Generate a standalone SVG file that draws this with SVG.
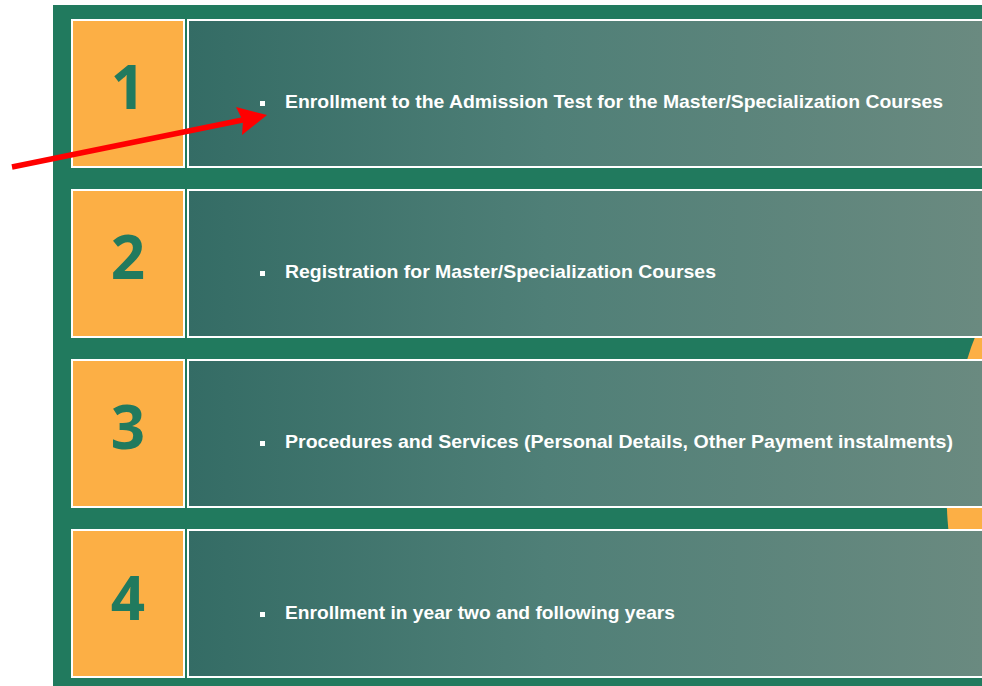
<svg xmlns="http://www.w3.org/2000/svg" width="982" height="686" viewBox="0 0 982 686">
  <defs>
    <linearGradient id="tealGrad" gradientUnits="userSpaceOnUse" x1="188" y1="0" x2="982" y2="0">
      <stop offset="0" stop-color="#346c65"/>
      <stop offset="0.45" stop-color="#4f7f77"/>
      <stop offset="1" stop-color="#6a8a80"/>
    </linearGradient>
    <style>
      .num { fill: #FCAF45; stroke: #ffffff; stroke-width: 2; }
      .panel { fill: url(#tealGrad); stroke: #ffffff; stroke-width: 2; }
      .digit { font-family: "Open Sans", "DejaVu Sans", sans-serif; font-weight: 700; font-size: 60px; fill: #217A5E; text-anchor: middle; }
      .label { font-family: "Liberation Sans", Arial, sans-serif; font-weight: bold; font-size: 18.5px; fill: #ffffff; }
      .bullet { fill: #ffffff; }
      .arrow-line { stroke: #ff0000; stroke-width: 5.5; fill: none; }
      .arrow-head { fill: #ff0000; }
    </style>
  </defs>

  <rect x="0" y="0" width="982" height="686" fill="#ffffff"/>
  <rect x="53" y="5" width="929" height="681" fill="#217A5E"/>
  <circle cx="1371.5" cy="490" r="425" fill="#FCAF45"/>

  <g id="step1">
    <rect class="num" x="72" y="20" width="112" height="147"/>
    <rect class="panel" x="188" y="20" width="800" height="147"/>
    <text class="digit" x="128" y="109">1</text>
    <rect class="bullet" x="260" y="101" width="5" height="5"/>
    <text class="label" x="285" y="108" textLength="658" lengthAdjust="spacingAndGlyphs">Enrollment to the Admission Test for the Master/Specialization Courses</text>
  </g>

  <g id="step2">
    <rect class="num" x="72" y="190" width="112" height="147"/>
    <rect class="panel" x="188" y="190" width="800" height="147"/>
    <text class="digit" x="128" y="279">2</text>
    <rect class="bullet" x="260" y="271" width="5" height="5"/>
    <text class="label" x="285" y="278" textLength="431" lengthAdjust="spacingAndGlyphs">Registration for Master/Specialization Courses</text>
  </g>

  <g id="step3">
    <rect class="num" x="72" y="360" width="112" height="147"/>
    <rect class="panel" x="188" y="360" width="800" height="147"/>
    <text class="digit" x="128" y="449">3</text>
    <rect class="bullet" x="260" y="441" width="5" height="5"/>
    <text class="label" x="285" y="448" textLength="668" lengthAdjust="spacingAndGlyphs">Procedures and Services (Personal Details, Other Payment instalments)</text>
  </g>

  <g id="step4">
    <rect class="num" x="72" y="530" width="112" height="147"/>
    <rect class="panel" x="188" y="530" width="800" height="147"/>
    <text class="digit" x="128" y="620">4</text>
    <rect class="bullet" x="260" y="612" width="5" height="5"/>
    <text class="label" x="285" y="619" textLength="390" lengthAdjust="spacingAndGlyphs">Enrollment in year two and following years</text>
  </g>

  <g id="connectors">
    <line class="arrow-line" x1="12" y1="167" x2="245" y2="119.5"/>
    <polygon class="arrow-head" points="267,115 236,107 243,121 242,135"/>
  </g>
</svg>
